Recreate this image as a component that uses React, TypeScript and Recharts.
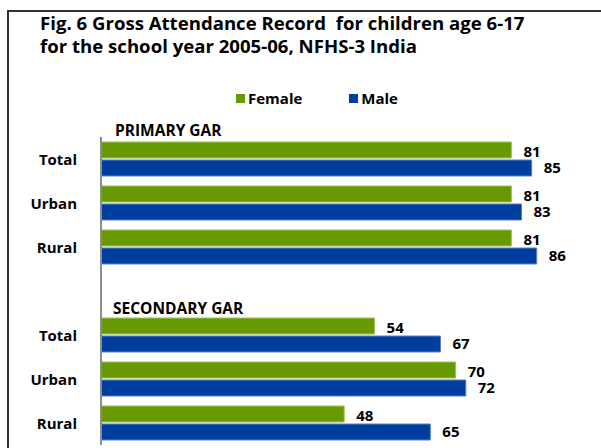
import { BarChart, Bar, XAxis, YAxis, LabelList } from 'recharts';

const categories = ['Total', 'Urban', 'Rural', '', 'Total', 'Urban', 'Rural'];
const female = [81, 81, 81, null, 54, 70, 48];
const male = [85, 83, 86, null, 67, 72, 65];
const groupLabels = ['PRIMARY GAR', 'SECONDARY GAR'];
const seriesNames = ['Female', 'Male'];
const titleLines = ['Fig. 6 Gross Attendance Record\u00a0 for children age 6-17', 'for the school year 2005-06, NFHS-3 India'];

const GREEN = '#669a00';
const BLUE = '#003f9f';
const FONT = '"Open Sans", sans-serif';

const data = categories.map((c, i) => ({
  id: `row-${i}`,
  name: c,
  female: female[i],
  male: male[i],
}));

function CatTick({ y, payload }: any) {
  const row = data.find((d) => d.id === payload.value);
  return (
    <text x={77} y={y} dy={6} textAnchor="end" fontFamily={FONT} fontWeight={700} fontSize={15} fill="#000">
      {row ? row.name : ''}
    </text>
  );
}

function ChartLegend() {
  const colors = [GREEN, BLUE];
  return (
    <div style={{ position: 'absolute', left: 236, top: 88, display: 'flex', gap: 47, fontFamily: FONT, fontWeight: 700, fontSize: 15 }}>
      {seriesNames.map((n, i) => (
        <div key={n} style={{ display: 'flex', alignItems: 'center', gap: 3 }}>
          <span style={{ width: 9, height: 9, background: colors[i], display: 'inline-block' }} />
          <span>{n}</span>
        </div>
      ))}
    </div>
  );
}

const titleStyle = {
  position: 'absolute' as const,
  left: 40,
  fontFamily: FONT,
  fontWeight: 700,
  fontSize: 18.6,
  lineHeight: '20px',
  color: '#000',
  whiteSpace: 'nowrap' as const,
};

export default function App() {
  return (
    <div style={{ position: 'absolute', left: 0, top: 0, width: 601, height: 448, background: '#fff', overflow: 'hidden' }}>
      <div style={{ position: 'absolute', left: 7, top: 10, width: 620, height: 460, border: '2px solid #333', boxSizing: 'border-box' }} />
      <div style={{ ...titleStyle, top: 13 }}>{titleLines[0]}</div>
      <div style={{ ...titleStyle, top: 36 }}>{titleLines[1]}</div>
      <ChartLegend />
      <div style={{ position: 'absolute', left: 115, top: 119, fontFamily: FONT, fontWeight: 700, fontSize: 15.5 }}>
        {groupLabels[0]}
      </div>
      <div style={{ position: 'absolute', left: 113, top: 297, fontFamily: FONT, fontWeight: 700, fontSize: 15.5 }}>
        {groupLabels[1]}
      </div>
      <BarChart
        width={601}
        height={448}
        data={data}
        layout="vertical"
        margin={{ top: 137, right: 44, bottom: 3, left: 0 }}
        barSize={16}
        barGap={2}
        style={{ position: 'absolute', left: 0, top: 0 }}
      >
        <XAxis type="number" domain={[0, 90]} hide />
        <YAxis
          type="category"
          dataKey="id"
          width={101}
          axisLine={{ stroke: '#8c8c8c', strokeWidth: 2 }}
          tickLine={false}
          tick={<CatTick />}
          interval={0}
        />
        <Bar dataKey="female" name="Female" fill={GREEN} stroke="#9cc25a" strokeWidth={1} isAnimationActive={false}>
          <LabelList dataKey="female" position="right" offset={12} dy={2} fill="#000" fontFamily={FONT} fontWeight={700} fontSize={15} />
        </Bar>
        <Bar dataKey="male" name="Male" fill={BLUE} stroke="#5a7fc0" strokeWidth={1} isAnimationActive={false}>
          <LabelList dataKey="male" position="right" offset={12} fill="#000" fontFamily={FONT} fontWeight={700} fontSize={15} />
        </Bar>
      </BarChart>
    </div>
  );
}
